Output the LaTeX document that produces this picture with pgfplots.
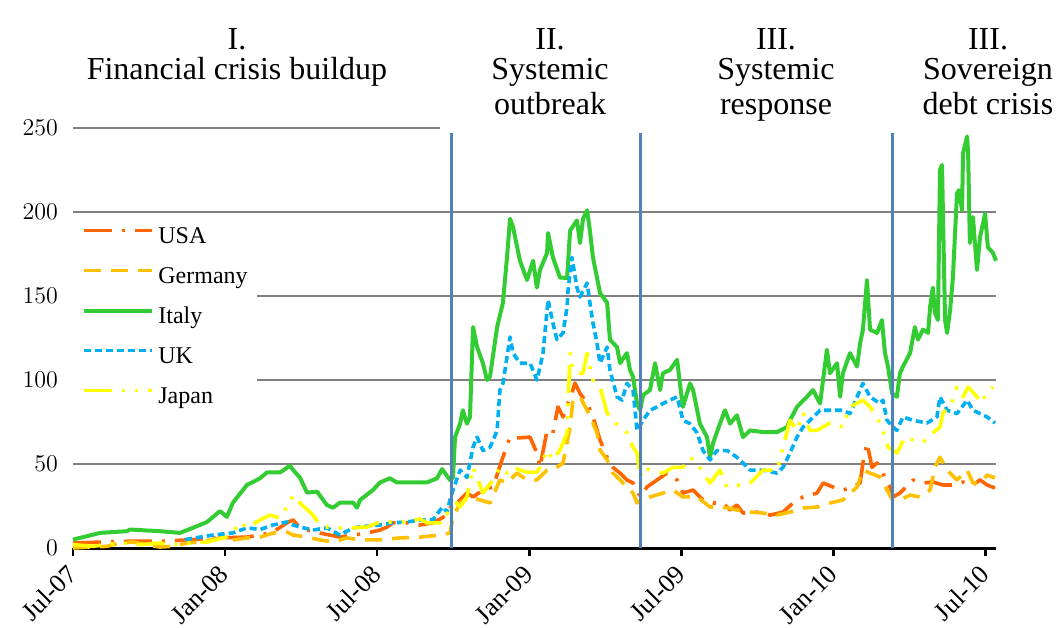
\documentclass[border=0pt]{standalone}
\usepackage{fontspec}
\setmainfont{Liberation Serif}
\usepackage{pgfplots}
\pgfplotsset{compat=1.18}

\definecolor{usa}{HTML}{FF6600}
\definecolor{ger}{HTML}{FFC000}
\definecolor{ita}{HTML}{33CC33}
\definecolor{uk}{HTML}{00B0F0}
\definecolor{jap}{HTML}{FFFF00}
\definecolor{vline}{HTML}{4F81BD}
\definecolor{gridgray}{HTML}{808080}

\begin{document}
\begin{tikzpicture}
\useasboundingbox (-36.5pt,-39.5pt) rectangle (492.5pt,274pt);
\begin{axis}[
  at={(0pt,0pt)}, anchor=south west,
  scale only axis, width=461.5pt, height=210pt,
  xmin=0, xmax=36.41, ymin=0, ymax=250,
  clip=false,
  axis lines*=left,
  y axis line style={draw=none},
  x axis line style={black, line width=1.5pt},
  xtick={0,6,12,18,24,30,36},
  xticklabels={Jul-07,Jan-08,Jul-08,Jan-09,Jul-09,Jan-10,Jul-10},
  ytick={0,50,100,150,200},
  extra y ticks={250},
  extra y tick style={grid=none},
  ymajorgrids,
  grid style={gridgray, line width=1pt},
  tick align=outside,
  major tick length=4pt,
  xtick style={black, line width=1.2pt},
  ytick style={draw=none},
  xticklabel style={xshift=2pt, yshift=-4.5pt, rotate=45, anchor=east, font=\fontsize{13}{13}\selectfont},
  yticklabel style={font=\fontsize{13}{13}\selectfont},
  legend style={at={(0,0.795)}, anchor=north west, draw=none, fill=white,
    font=\fontsize{12}{12}\selectfont, inner xsep=4.5pt, inner ysep=6pt,
    row sep=9pt, nodes={inner sep=0pt, text height=8.5pt, text depth=2.5pt}},
  legend cell align=left,
  legend image code/.code={\draw[#1] (0pt,3.5pt) -- (34pt,3.5pt);},
  /tikz/every odd column/.append style={column sep=2pt},
  /tikz/every even column/.append style={column sep=4pt},
  every axis plot/.append style={line join=round},
]
\draw[gridgray, line width=1pt] (axis cs:0,250) -- (axis cs:14.48,250);

% USA
\addplot[usa, line width=1.8pt, dash pattern=on 14pt off 5pt on 1.5pt off 5pt] coordinates {
(0.00,3)(1.07,3.5)(2.13,4)(3.43,4)(4.73,5)(5.80,6)(6.86,6.5)(7.38,7.7)(7.89,9.5)
(8.44,15)(8.68,16.7)(8.95,12)(9.23,10.7)(9.74,8.9)(10.53,6.5)(11.05,7.7)(11.60,8.9)
(12.11,10.7)(12.39,12.5)(12.62,15)(13.18,15)(13.69,13.7)(14.20,15)(14.75,19.5)
(14.99,27.4)(15.15,26.8)(15.54,32.7)(15.78,30.4)(16.17,34.5)(16.57,36.3)(16.92,52.4)
(17.24,66)(17.51,65.5)(18.03,66)(18.30,56.5)(18.42,48)(18.70,70)(18.93,68.5)(19.13,84)
(19.33,78)(19.53,86.3)(19.68,92)(19.80,98.2)(20.00,92)(20.28,86.3)(20.51,78)(20.79,64.3)
(21.07,54)(21.30,48)(21.58,44.6)(21.85,40.5)(22.09,38.7)(22.25,34.5)(22.37,30.4)
(22.64,36.3)(23.04,40.5)(23.43,44.6)(23.83,40.5)(24.06,32.7)(24.46,34.5)(24.85,28.6)
(25.25,26.8)(25.64,26.8)(25.92,22.6)(26.19,25.6)(26.43,20.8)(26.98,21.4)(27.50,19.6)
(28.01,21.4)(28.40,26.8)(28.80,30.4)(29.35,32.7)(29.59,38.7)(29.98,36.3)(30.37,34.5)
(30.77,36.3)(31.05,38.7)(31.16,50.6)(31.32,62.5)(31.52,48)(31.72,50.6)(31.95,44.6)
(32.11,38.7)(32.23,36.3)(32.35,30.4)(32.62,32.7)(32.82,35.7)(33.14,40.5)(33.53,38.7)
(33.92,39.3)(34.32,37.5)(34.71,37.5)(35.11,39.3)(35.50,37.5)(35.78,40.5)(36.06,37.5)
(36.37,35.7)};

% Germany
\addplot[ger, line width=1.8pt, dash pattern=on 8.5pt off 5pt] coordinates {
(0.00,0)(0.79,0.6)(1.34,1)(1.85,3)(2.37,3.6)(2.92,1.8)(3.43,0.6)(3.94,1)(4.50,3)
(5.01,3.6)(5.80,6)(6.31,4.8)(6.86,6)(7.38,6.5)(7.89,8.9)(8.44,9.5)(8.68,7.7)(9.23,6.5)
(9.74,4.8)(10.26,3.6)(10.81,6)(11.32,4.8)(12.11,4.8)(12.90,6)(13.69,6.5)(14.48,7.7)
(14.87,8.9)(14.99,18)(15.27,26.8)(15.66,30.4)(16.06,28.6)(16.45,26.8)(16.84,40.5)
(17.12,38.7)(17.51,44.6)(17.91,40.5)(18.30,40.5)(18.70,46.4)(18.93,46.4)(19.33,50.6)
(19.61,72)(19.72,88)(20.00,90)(20.28,82)(20.51,74.4)(20.67,68.5)(20.79,58.3)(21.07,52.4)
(21.30,44.6)(21.58,40.5)(21.85,36.3)(22.09,32.7)(22.25,26.8)(22.37,28.6)(22.76,30.4)
(23.27,32.7)(23.67,34.5)(24.06,30.4)(24.62,30.4)(25.13,24.4)(25.64,24.4)(26.19,22.6)
(26.71,21.4)(27.22,20.8)(27.77,19.6)(28.28,21.4)(28.80,23.8)(29.35,24.4)(29.86,26.8)
(30.37,28.6)(30.93,36.3)(31.16,46.4)(31.44,44.6)(31.83,42.3)(32.11,34.5)(32.35,28)
(32.62,28.6)(33.02,31.5)(33.41,30.4)(33.81,34.5)(34.00,48)(34.20,54)(34.48,46.4)
(34.87,40.5)(35.27,46.4)(35.50,38.7)(35.78,38.7)(36.06,43.4)(36.37,41.7)};

% Italy
\addplot[ita, line width=2pt] coordinates {
(0.00,5)(1.07,9)(2.13,10)(2.25,11)(3.43,10)(4.22,9)(4.73,12)(5.29,15.5)(5.80,22)
(6.07,18.5)(6.31,27)(6.86,37.5)(7.38,41.5)(7.65,45)(8.17,45)(8.56,49)(8.68,46.5)
(8.95,42)(9.23,33)(9.63,33.5)(10.02,25.5)(10.26,24)(10.53,27)(11.05,27)(11.20,24)
(11.32,28.5)(11.83,34.5)(12.11,39)(12.50,41.5)(12.78,39)(13.41,39)(13.96,39)(14.36,41.5)
(14.56,47)(14.87,40.5)(14.99,42)(15.07,66)(15.27,74)(15.38,82)(15.54,74)(15.66,78)
(15.78,131.5)(15.94,119.6)(16.17,110)(16.33,100)(16.45,102)(16.73,131.5)(16.96,146)
(17.12,173)(17.24,196)(17.36,191)(17.63,171)(17.91,159.5)(18.15,171)(18.30,155)
(18.42,165.5)(18.70,175.6)(18.74,187.5)(18.93,173)(19.21,161)(19.49,160.7)(19.61,189)
(19.88,195)(20.00,181.5)(20.12,196)(20.28,201)(20.39,189)(20.51,173)(20.79,151.8)
(21.07,146)(21.18,124)(21.46,119.6)(21.58,110)(21.85,116)(21.97,106)(22.09,102)
(22.25,86)(22.37,82)(22.49,91)(22.76,94)(22.96,110)(23.16,94)(23.27,104)(23.55,106)
(23.83,112)(23.94,98)(24.06,84)(24.34,98)(24.46,94)(24.73,74)(25.01,66)(25.13,54)
(25.25,62.5)(25.52,74)(25.72,82)(25.92,74)(26.19,79)(26.43,66)(26.71,70)(27.22,69)
(27.77,69)(28.17,72)(28.28,76)(28.56,84)(28.95,90)(29.19,94)(29.47,86)(29.74,118)
(29.86,104)(30.14,110)(30.26,90)(30.37,104)(30.65,116)(30.93,108)(31.05,122)(31.16,130)
(31.32,159.5)(31.44,130)(31.72,128)(31.91,135.7)(32.03,116)(32.15,108)(32.31,92)
(32.50,90)(32.62,104)(32.74,108)(33.02,116)(33.21,131.5)(33.33,124)(33.53,130)
(33.73,128)(33.81,143.5)(33.92,155)(34.00,140)(34.12,135.7)(34.20,225)(34.28,228)
(34.40,135.7)(34.48,128)(34.60,141.7)(34.71,161)(34.87,211)(34.95,213)(35.07,201)
(35.11,235)(35.27,245)(35.31,235)(35.38,181.5)(35.50,197)(35.66,165.5)(35.78,185)
(35.98,199)(36.09,179)(36.29,175.6)(36.41,171)};

% UK
\addplot[uk, line width=1.8pt, dash pattern=on 3.5pt off 2pt] coordinates {
(4.42,5)(5.01,6.5)(5.52,7.7)(6.31,9)(6.86,12)(7.38,11)(7.89,13.7)(8.44,15.5)(8.68,13.7)
(8.95,12.5)(9.47,10.7)(10.02,12)(10.53,7.7)(11.05,12)(11.60,13)(12.11,13.7)(12.62,15)
(13.18,15.5)(13.69,16.7)(14.20,16.7)(14.48,22.6)(14.60,24.4)(14.75,21.4)(14.87,28.6)
(14.99,34.5)(15.27,46.4)(15.54,42)(15.78,60)(15.94,66)(16.17,58)(16.45,60)(16.57,64)
(16.73,70)(16.84,94)(16.96,98)(17.12,113.7)(17.24,125.6)(17.36,116)(17.63,110)
(18.03,110)(18.30,100)(18.42,107.7)(18.54,116)(18.74,147.6)(18.93,134)(19.09,124)
(19.33,128)(19.49,143.5)(19.53,153.6)(19.68,173)(19.88,155)(20.00,149.4)(20.28,157.7)
(20.39,146)(20.51,134)(20.67,122)(20.79,110)(21.07,119.6)(21.18,106)(21.46,90)
(21.66,88)(21.85,98)(22.09,94)(22.25,70)(22.49,76)(22.76,82)(23.04,84)(23.27,86)
(23.55,88)(23.83,90)(24.06,76)(24.34,74)(24.62,68.5)(24.85,58)(25.13,52.4)(25.40,58)
(25.80,58)(26.19,54)(26.43,50.6)(26.71,46.4)(27.22,46.4)(27.77,44.6)(28.01,48)
(28.28,56.5)(28.56,66)(28.80,72)(29.07,76)(29.47,82)(29.86,82)(30.37,82)(30.65,80)
(31.16,98)(31.44,90)(31.83,86)(31.95,88)(32.11,76)(32.35,72)(32.50,70)(32.74,78)
(33.14,76)(33.69,74.4)(34.08,78)(34.20,90)(34.48,82)(34.87,80)(35.27,88)(35.50,82)
(35.78,80)(36.06,78)(36.37,74.4)};

% Japan
\addplot[jap, line width=1.8pt, dash pattern=on 14pt off 5pt on 1.5pt off 5pt on 1.5pt off 5pt] coordinates {
(0.00,2)(0.79,1)(1.85,3)(2.64,2)(3.43,3)(3.94,2)(4.73,3)(5.29,3.6)(6.07,6.5)(6.31,9.5)
(6.59,15.5)(6.86,12)(7.38,16.7)(7.77,19.6)(8.17,17.9)(8.44,24.4)(8.68,31.5)(8.95,26.8)
(9.47,19.6)(9.74,13.7)(10.02,12.5)(10.53,12)(11.05,12)(11.60,12.5)(12.11,15.5)
(12.62,15.5)(13.18,15.5)(13.69,17.3)(13.96,15)(14.48,15)(14.75,20.8)(14.87,18.5)
(14.99,28.6)(15.27,24.4)(15.54,30.4)(15.78,48)(15.98,40.5)(16.17,32.7)(16.57,40.5)
(16.84,48)(17.12,44.6)(17.36,48)(17.63,46.4)(17.91,45.2)(18.30,45.2)(18.42,48)
(18.70,58.3)(18.93,52.4)(19.21,58.3)(19.49,68.5)(19.53,88)(19.61,116)(19.72,106)
(20.00,104)(20.12,104)(20.28,116)(20.51,100)(20.79,95.8)(21.07,80.4)(21.30,76)
(21.58,72)(21.85,68.5)(22.09,60)(22.25,56.5)(22.37,42)(22.49,48)(22.76,46.4)
(23.27,44.6)(23.67,48)(24.06,48)(24.34,54)(24.62,50.6)(24.85,44.6)(25.13,38.7)
(25.52,46.4)(25.80,36.3)(26.31,37.5)(26.71,38.7)(27.22,46.4)(27.77,46.4)(28.01,60)
(28.28,76)(28.56,70)(28.80,80.4)(29.07,70)(29.35,70)(29.86,74.4)(30.37,72)(30.65,84)
(31.16,88)(31.44,84)(31.72,78)(31.95,70)(32.15,60)(32.35,58)(32.50,56.5)(32.82,66)
(33.14,64.3)(33.53,63)(33.92,68.5)(34.20,72)(34.32,80.4)(34.67,86.3)(34.87,95.8)
(35.11,90)(35.31,95.8)(35.66,90)(35.78,86.3)(36.06,92)(36.29,95.8)};

\legend{USA,Germany,Italy,UK,Japan}

\draw[vline, line width=1.5pt] (axis cs:14.95,0) -- (axis cs:14.95,247);
\draw[vline, line width=1.5pt] (axis cs:22.37,0) -- (axis cs:22.37,247);
\draw[vline, line width=1.5pt] (axis cs:32.31,0) -- (axis cs:32.31,247);
\end{axis}

\begin{scope}[every node/.style={anchor=base, font=\fontsize{16}{16}\selectfont, inner sep=0pt}]
\node at (82pt,249pt) {I.};
\node at (82pt,234pt) {Financial crisis buildup};
\node at (238.5pt,249pt) {II.};
\node at (238.5pt,234pt) {Systemic};
\node at (238.5pt,216.5pt) {outbreak};
\node at (351.5pt,249pt) {III.};
\node at (351.5pt,234pt) {Systemic};
\node at (351.5pt,216.5pt) {response};
\node at (457.5pt,249pt) {III.};
\node at (457.5pt,234pt) {Sovereign};
\node at (457.5pt,216.5pt) {debt crisis};
\end{scope}
\end{tikzpicture}
\end{document}
